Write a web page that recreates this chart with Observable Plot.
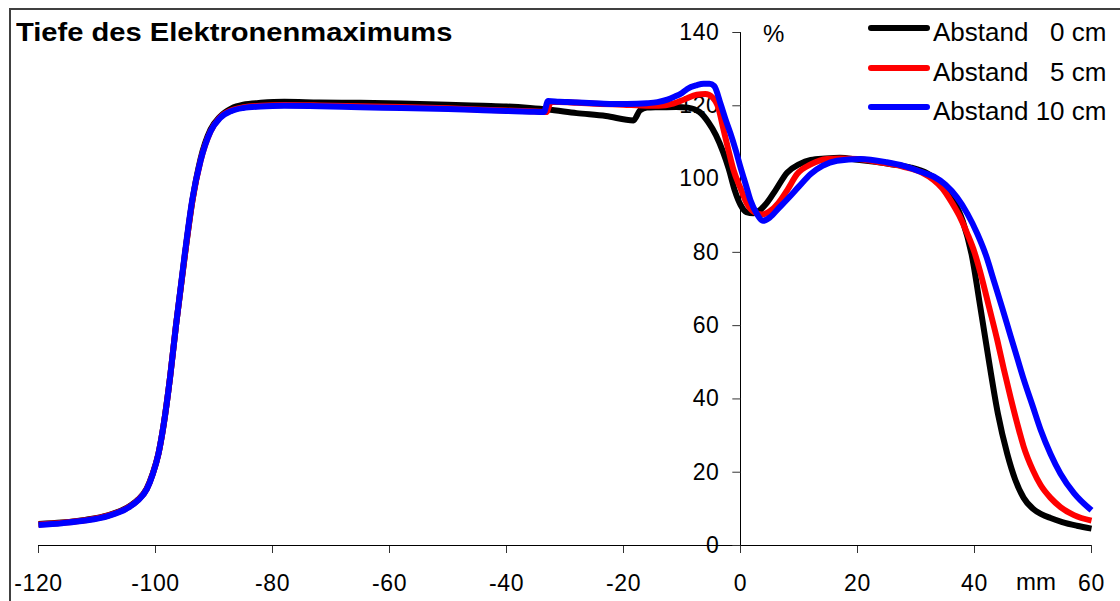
<!DOCTYPE html>
<html>
<head>
<meta charset="utf-8">
<script src="https://cdn.jsdelivr.net/npm/d3@7"></script>
<script src="https://cdn.jsdelivr.net/npm/@observablehq/plot@0.6"></script>
<style>
  html, body { margin: 0; padding: 0; background: #fff; overflow: hidden; }
  #wrap { position: relative; width: 1120px; height: 601px; font-family: "Liberation Sans", Arial, sans-serif; }
  #frame { position: absolute; left: 9px; top: 8px; width: 1200px; height: 700px; border-left: 2px solid #404040; border-top: 2px solid #404040; }
  #chart { position: absolute; left: 0; top: 0; }
  .lbl { position: absolute; white-space: pre; line-height: 1; color: #000; }
  #title { left: 16px; top: 19px; font-size: 26px; font-weight: bold; transform: scaleX(1.12); transform-origin: left center; }
  .legline { position: absolute; left: 868px; width: 62px; height: 6px; border-radius: 3px; }
  .legtxt { left: 933px; font-size: 26px; }
  svg text { letter-spacing: 0.6px; }
</style>
</head>
<body>
<div id="wrap">
  <div id="frame"></div>
  <div id="chart"></div>
  <div id="title" class="lbl">Tiefe des Elektronenmaximums</div>
  <div id="legend"></div>
  <div class="lbl" style="left:763px; top:22px; font-size:24px;">%</div>
  <div class="lbl" style="left:1016px; top:570px; font-size:24px;">mm</div>
</div>
<script>
// ---- data ----
const seriesNames = ["Abstand   0 cm", "Abstand   5 cm", "Abstand 10 cm"];
const seriesColors = ["#000000", "#ff0000", "#0000ff"];
const xTicks = [-120, -100, -80, -60, -40, -20, 0, 20, 40, 60];
const yTicks = [0, 20, 40, 60, 80, 100, 120, 140];

const x0cm = [-120,-116,-112,-108,-105,-103,-101.5,-100.5,-99.5,-98.6,-97.5,-96.5,-95,-93.7,-92.3,-90.6,-89,-87,-85,-82,-78,-72,-65,-58,-50,-44,-40,-36,-33,-28,-23,-18.3,-17.2,-16,-14,-11,-9,-7,-5.5,-4.2,-3,-2,-1,0,1,2.2,3.3,4.5,6,8,10,12,14.5,17,20,23,26,29,32,34.5,36.4,38,39.5,41,42.5,44,45.6,47,48.4,50,51.5,53,55,57.5,60];
const y0cm = [5.9,6.3,7.0,8.3,10.2,12.5,15.5,19.5,25,33,46,60,79,94,105.5,113.5,117,119.3,120.3,120.8,121.1,120.9,120.8,120.6,120.3,120,119.8,119.4,119,118,117.2,116,118.7,119.5,119.6,119.7,119.5,118.3,115.5,112,107.5,102.8,97,93,91,90.7,91.5,93.5,97,101.8,104,105.2,105.6,105.8,105.3,104.7,104,103.2,101.5,98.5,94.2,88.5,79.5,65,50,36,25,17.8,13,10,8.5,7.5,6.4,5.4,4.6];

const x5cm = [-120,-116,-112,-108,-105,-103,-101.5,-100.5,-99.5,-98.6,-97.5,-96.5,-95,-93.7,-92.3,-90.6,-89,-87,-85,-82,-78,-72,-65,-58,-50,-44,-40,-36,-33.2,-32.4,-31,-28,-24,-20,-17,-14,-11.5,-9.5,-7.5,-6,-4.8,-3.8,-2.9,-2,-1.2,0,1.1,2.3,3.7,5,6.5,8,9.7,12,14.8,17,20,23,26,28,31,33,34.5,35.9,37.4,38.8,40,41,42.5,43.9,45,46.2,47.3,48.4,50,51.3,53,54.7,57,60];
const y5cm = [5.7,6.2,6.9,8.2,10.1,12.4,15.4,19.4,25,33,46,60,79,94,105,113,116.8,118.8,119.6,120,120.2,120.1,119.9,119.7,119.3,118.9,118.7,118.5,118.3,121,121,120.8,120.5,120.3,120.1,120,120.6,121.8,123,123.2,122.3,119.5,113.5,107.5,102.5,97.5,93.3,91,90.3,91.2,93.5,97,101.4,104,105.5,105.6,105.5,104.8,104,103.3,101.8,99.8,97.5,94.2,90,85,80,74.5,65,56,48.2,40.2,33.3,27,20.5,16.5,13,10.5,8.3,6.8];

const x10cm = [-120,-116,-112,-108,-105,-103,-101.5,-100.5,-99.5,-98.6,-97.5,-96.5,-95,-93.7,-92.3,-90.6,-89,-87,-85,-82,-78,-72,-65,-58,-50,-44,-40,-36,-33.6,-32.9,-31,-29.6,-25,-22,-19.4,-16,-14.2,-12.5,-11.4,-10,-9.1,-7.5,-6.3,-5.3,-4.5,-3.4,-2.6,-1.7,-0.8,0,0.9,1.7,2.8,3.8,5,6.5,8,10,12,14,16.5,20.5,25,27.9,30.8,33,35,37,38.8,40.5,42,43.3,44.8,46.2,47.3,48.4,50,51.3,53,54.7,57,60];
const y10cm = [5.6,6.1,6.8,8.1,10,12.3,15.3,19.3,25,33,46,60,79.5,94.5,105,113,116.6,118.6,119.4,119.8,120,119.9,119.6,119.4,119.1,118.8,118.6,118.4,118.3,121.3,121.1,121,120.7,120.5,120.5,120.7,121,121.7,122.4,123.5,124.6,125.6,126,126,125.4,120.5,116.5,112.4,107.8,103.2,98.5,94.2,90.5,88.6,89.5,92,94.5,98,101.4,103.6,105,105.5,104.6,103.6,102,100.7,98.5,95,90.5,85,79,72.3,64.5,57,51.2,45.4,37.8,31.6,25,19.6,14.3,9.6];

// ---- build tables ----
const xs = [x0cm, x5cm, x10cm];
const ys = [y0cm, y5cm, y10cm];
const series = xs.map((xa, k) => xa.map((x, i) => ({x, y: ys[k][i]})));

const lineMarks = series.map((d, k) => Plot.line(d, {
  x: "x", y: "y", stroke: seriesColors[k], strokeWidth: 6,
  strokeLinejoin: "round", strokeLinecap: "butt", curve: "monotone-x"
}));

const chart = Plot.plot({
  width: 1120, height: 601,
  marginLeft: 38, marginRight: 29, marginTop: 32, marginBottom: 56,
  x: {domain: [-120, 60], label: null},
  y: {domain: [0, 140], axis: null, label: null},
  style: {fontFamily: "'Liberation Sans', Arial, sans-serif", fontSize: "23px", background: "transparent", color: "#000", overflow: "visible"},
  marks: [
    Plot.axisX({ticks: xTicks, tickSize: 8, tickPadding: 21, tickFormat: d => String(d), label: null, stroke: "#333", fill: "#000", fontSize: 23}),
    Plot.ruleY([0], {stroke: "#000", strokeWidth: 1}),
    Plot.ruleX([0], {y1: () => 0, y2: () => 140, stroke: "#000", strokeWidth: 1}),
    Plot.link(yTicks, {x1: () => 0, x2: () => -1.4, y1: d => d, y2: d => d, stroke: "#333", strokeWidth: 1}),
    Plot.text(yTicks, {x: () => 0, y: d => d, text: d => String(d), dx: -21, textAnchor: "end", fontSize: 23, fill: "#000"}),
    ...lineMarks
  ]
});
document.getElementById("chart").appendChild(chart);

// ---- legend ----
const legend = document.getElementById("legend");
const legTops = [25, 65, 104];
seriesNames.forEach((name, k) => {
  const ln = document.createElement("div");
  ln.className = "legline";
  ln.style.top = legTops[k] + "px";
  ln.style.background = seriesColors[k];
  legend.appendChild(ln);
  const tx = document.createElement("div");
  tx.className = "lbl legtxt";
  tx.style.top = (legTops[k] - 6) + "px";
  tx.textContent = name;
  legend.appendChild(tx);
});
</script>
</body>
</html>
